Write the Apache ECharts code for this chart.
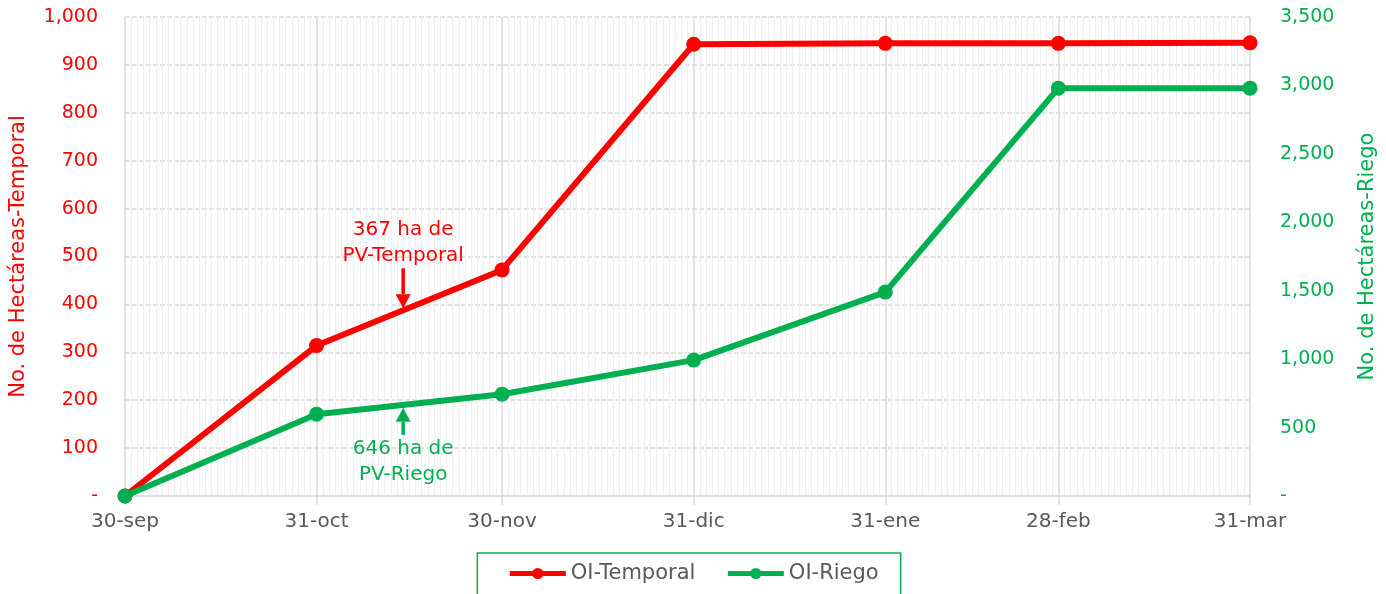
<!DOCTYPE html>
<html>
<head>
<meta charset="utf-8">
<script src="https://cdn.jsdelivr.net/npm/echarts@6/dist/echarts.min.js"></script>
<style>
  html, body { margin: 0; padding: 0; background: #fff; }
  #chart { width: 1386px; height: 594px; }
</style>
</head>
<body>
<div id="chart"></div>
<script>
// 数据
var fechas = ['30-sep', '31-oct', '30-nov', '31-dic', '31-ene', '28-feb', '31-mar'];
var temporal = [0, 314, 472, 943, 945, 945, 946];
var riego = [0, 598, 744, 993, 1490, 2980, 2980];
var meses = ['ene', 'feb', 'mar', 'abr', 'may', 'jun', 'jul', 'ago', 'sep', 'oct', 'nov', 'dic'];
var notaTemporal = ['367 ha de', 'PV-Temporal'];
var notaRiego = ['646 ha de', 'PV-Riego'];
var diaNota = '14-nov';

var rojo = '#ff0000';
var verde = '#00b050';
var gris = '#595959';
var fuente = 'DejaVu Sans';
var tam = 19;

// 每一天一个类目 (30-sep ... 31-mar)
var dias = [];
;(function () {
  var d = new Date(Date.UTC(2022, 8, 30));
  var fin = Date.UTC(2023, 2, 31);
  while (d.getTime() <= fin) {
    dias.push(d.getUTCDate() + '-' + meses[d.getUTCMonth()]);
    d = new Date(d.getTime() + 86400000);
  }
})();

function esFinMes(index, value) {
  return fechas.indexOf(value) !== -1;
}

function miles(v) {
  if (v === 0) return '-';
  return v.toLocaleString('en-US');
}

var myChart = echarts.init(document.getElementById('chart'));

var option = {
  animation: false,
  textStyle: { fontFamily: fuente },
  grid: { left: 125, right: 136, top: 17, bottom: 98 },
  legend: {
    left: 'center',
    top: 553,
    padding: [10, 22, 30, 30],
    borderColor: verde,
    borderWidth: 1.5,
    itemWidth: 56,
    itemHeight: 14,
    itemGap: 30,
    lineStyle: { width: 5 },
    textStyle: { color: gris, fontSize: 21, fontFamily: fuente },
    data: ['OI-Temporal', 'OI-Riego']
  },
  xAxis: [
    {
      type: 'category',
      data: dias,
      boundaryGap: false,
      axisLine: { lineStyle: { color: '#d9d9d9', width: 1.5 } },
      axisTick: { interval: esFinMes, length: 9, lineStyle: { color: '#d9d9d9', width: 1.5 } },
      axisLabel: { interval: esFinMes, color: gris, fontSize: 20, margin: 16, fontFamily: fuente },
      splitLine: { show: true, interval: esFinMes, lineStyle: { color: '#d9d9d9', width: 1.5 } }
    },
    {
      type: 'category',
      data: dias,
      boundaryGap: false,
      position: 'bottom',
      axisLine: { show: false },
      axisTick: { show: false },
      axisLabel: { show: false },
      splitLine: {
        show: true,
        interval: function (index, value) { return !esFinMes(index, value); },
        lineStyle: { color: '#efefef', width: 1 }
      }
    }
  ],
  yAxis: [
    {
      type: 'value',
      min: 0,
      max: 1000,
      interval: 100,
      name: 'No. de Hectáreas-Temporal',
      nameLocation: 'middle',
      nameRotate: 90,
      nameGap: 96,
      nameTextStyle: { color: rojo, fontSize: 21, fontFamily: fuente },
      axisLine: { show: false },
      axisTick: { show: false },
      axisLabel: { color: rojo, fontSize: tam, margin: 27, formatter: miles, fontFamily: fuente },
      splitLine: { lineStyle: { color: '#d9d9d9', width: 1.5, type: [5, 2] } }
    },
    {
      type: 'value',
      min: 0,
      max: 3500,
      interval: 500,
      position: 'right',
      name: 'No. de Hectáreas-Riego',
      nameLocation: 'middle',
      nameRotate: 90,
      nameGap: 107,
      nameTextStyle: { color: verde, fontSize: 21, fontFamily: fuente },
      axisLine: { show: false },
      axisTick: { show: false },
      axisLabel: { color: verde, fontSize: tam, margin: 30, formatter: miles, fontFamily: fuente },
      splitLine: { show: false }
    }
  ],
  series: [
    {
      name: 'OI-Temporal',
      type: 'line',
      xAxisIndex: 0,
      yAxisIndex: 0,
      data: fechas.map(function (f, i) { return [f, temporal[i]]; }),
      symbol: 'circle',
      symbolSize: 15,
      lineStyle: { color: rojo, width: 6 },
      itemStyle: { color: rojo },
      z: 3
    },
    {
      name: 'OI-Riego',
      type: 'line',
      xAxisIndex: 0,
      yAxisIndex: 1,
      data: fechas.map(function (f, i) { return [f, riego[i]]; }),
      symbol: 'circle',
      symbolSize: 15,
      lineStyle: { color: verde, width: 6 },
      itemStyle: { color: verde },
      z: 3
    }
  ]
};

myChart.setOption(option);

// 注释箭头：位置由坐标轴换算出来
function puntoEnLinea(yIndex, valores) {
  var a = myChart.convertToPixel({ xAxisIndex: 0, yAxisIndex: yIndex }, [fechas[1], valores[1]]);
  var b = myChart.convertToPixel({ xAxisIndex: 0, yAxisIndex: yIndex }, [fechas[2], valores[2]]);
  var x = myChart.convertToPixel({ xAxisIndex: 0 }, diaNota);
  var t = (x - a[0]) / (b[0] - a[0]);
  return [x, a[1] + t * (b[1] - a[1])];
}

var pT = puntoEnLinea(0, temporal);
var pR = puntoEnLinea(1, riego);

function flecha(x, yPunta, yBase, color) {
  var dir = yBase > yPunta ? 1 : -1;
  var cabeza = 14;
  return [
    {
      type: 'line',
      shape: { x1: x, y1: yBase, x2: x, y2: yPunta + dir * cabeza },
      style: { stroke: color, lineWidth: 3.5 },
      z: 10
    },
    {
      type: 'polygon',
      shape: { points: [[x, yPunta], [x - 7.5, yPunta + dir * cabeza], [x + 7.5, yPunta + dir * cabeza]] },
      style: { fill: color },
      z: 10
    }
  ];
}

function texto(x, y, lineas, color) {
  return {
    type: 'text',
    x: x,
    y: y,
    style: {
      text: lineas.join('\n'),
      fill: color,
      font: '20px "' + fuente + '"',
      lineHeight: 26,
      align: 'center',
      verticalAlign: 'middle'
    },
    z: 10
  };
}

var graficos = []
  .concat(flecha(pT[0], pT[1] - 2, pT[1] - 42, rojo))
  .concat([texto(pT[0], pT[1] - 67, notaTemporal, rojo)])
  .concat(flecha(pR[0], pR[1] + 3, pR[1] + 30, verde))
  .concat([texto(pR[0], pR[1] + 57, notaRiego, verde)]);

myChart.setOption({ graphic: graficos });

window.addEventListener('resize', function () {
  myChart.resize();
});
</script>
</body>
</html>
